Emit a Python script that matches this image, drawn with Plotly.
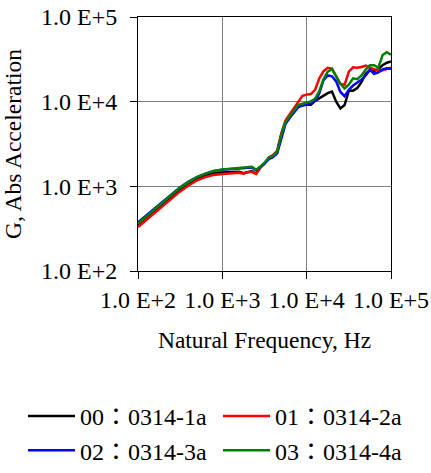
import plotly.graph_objects as go

freq_hz = [100, 126, 158, 200, 251, 316, 398, 501, 631, 794,
           1000, 1259, 1585, 1778, 1995, 2239, 2512, 2818, 3162, 3548,
           3981, 4467, 5012, 5623, 6310, 7079, 7943, 8913, 10000, 11220,
           12589, 14125, 15849, 17783, 19953, 22387, 25119, 28184, 31623, 35481,
           39811, 44668, 50119, 56234, 63096, 70795, 79433, 89125, 100000]

g_00 = [347, 422, 513, 624, 759, 912, 1072, 1230, 1349, 1429,
        1455, 1472, 1486, 1429, 1479, 1514, 1413, 1667, 1871, 2138,
        2265, 2512, 4074, 5754, 6761, 7943, 8810, 9120, 9226, 9226,
        10230, 10960, 11800, 12590, 13180, 10000, 8318, 9120, 13490, 13490,
        14450, 16980, 21380, 23710, 22910, 24270, 26920, 28840, 29850]

g_01 = [331, 403, 490, 596, 724, 871, 1023, 1175, 1288, 1365,
        1396, 1419, 1445, 1406, 1462, 1486, 1406, 1660, 1862, 2188,
        2344, 2630, 4266, 6026, 7079, 8318, 10000, 11750, 12110, 12300,
        13800, 18840, 22910, 25120, 24550, 19950, 16220, 15850, 22650, 25410,
        25120, 25700, 26610, 25120, 24150, 23170, 23440, 24270, 25120]

g_02 = [376, 457, 556, 676, 813, 977, 1135, 1288, 1413, 1514,
        1567, 1603, 1629, 1641, 1660, 1667, 1549, 1679, 1862, 2089,
        2213, 2455, 3802, 5495, 6457, 7413, 8610, 9016, 9183, 9594,
        10230, 12590, 17990, 20420, 19950, 17380, 13030, 11610, 13800, 15490,
        16790, 18200, 20420, 23710, 21380, 22130, 23990, 24830, 24550]

g_03 = [363, 442, 537, 653, 794, 966, 1122, 1288, 1413, 1514,
        1585, 1622, 1648, 1667, 1690, 1706, 1567, 1698, 1905, 2163,
        2291, 2570, 4074, 5754, 6761, 7943, 9120, 9441, 9661, 10070,
        10840, 13340, 18410, 22650, 24270, 19950, 16220, 14290, 15850, 18840,
        18410, 20420, 23990, 26920, 26920, 25120, 35480, 38460, 35890]

series_names = ["00\uff1a0314-1a", "01\uff1a0314-2a", "02\uff1a0314-3a", "03\uff1a0314-4a"]
series_colors = ["#000000", "#ff0000", "#0000ff", "#008000"]

tick_vals = [100, 1000, 10000, 100000]
tick_text = ["1.0 E+2", "1.0 E+3", "1.0 E+4", "1.0 E+5"]

FONT = "Liberation Serif, Times New Roman, Noto Sans CJK JP, serif"

W, H = 431, 473
M_L, M_R, M_T, M_B = 138, 40, 17, 202
plot_w = W - M_L - M_R
plot_h = H - M_T - M_B

fig = go.Figure()
for name, color, ys in zip(series_names, series_colors, [g_00, g_01, g_02, g_03]):
    fig.add_trace(go.Scatter(x=freq_hz, y=ys, mode="lines", name=name,
                             line=dict(color=color, width=2.5)))

axis_common = dict(
    type="log", range=[2, 5], tickvals=tick_vals, ticktext=tick_text,
    showgrid=True, gridcolor="#808080", gridwidth=1,
    showline=True, linecolor="#000000", linewidth=1, mirror=True,
    ticks="outside", ticklen=7, tickcolor="#000000", tickwidth=1,
    zeroline=False, tickfont=dict(family=FONT, size=24, color="#000000"),
)

fig.update_layout(
    width=W, height=H,
    margin=dict(l=M_L, r=M_R, t=M_T, b=M_B, autoexpand=False),
    paper_bgcolor="#ffffff", plot_bgcolor="#ffffff",
    font=dict(family=FONT, size=24, color="#000000"),
    xaxis=dict(**axis_common,
               title=dict(text="Natural Frequency, Hz", standoff=19,
                          font=dict(family=FONT, size=23.5))),
    yaxis=dict(**axis_common, ticklabelstandoff=8,
               title=dict(text="G, Abs Acceleration", standoff=12,
                          font=dict(family=FONT, size=23.5))),
    showlegend=True,
    legend=dict(orientation="h", xref="paper", yref="paper",
                x=(23 - M_L) / plot_w, y=(M_T + plot_h - 394) / plot_h,
                xanchor="left", yanchor="top",
                entrywidth=133, entrywidthmode="pixels", itemwidth=47,
                font=dict(family=FONT, size=24, color="#000000"),
                bgcolor="rgba(0,0,0,0)", borderwidth=0, tracegroupgap=0,
                traceorder="normal"),
)

fig.write_html("out.html")
